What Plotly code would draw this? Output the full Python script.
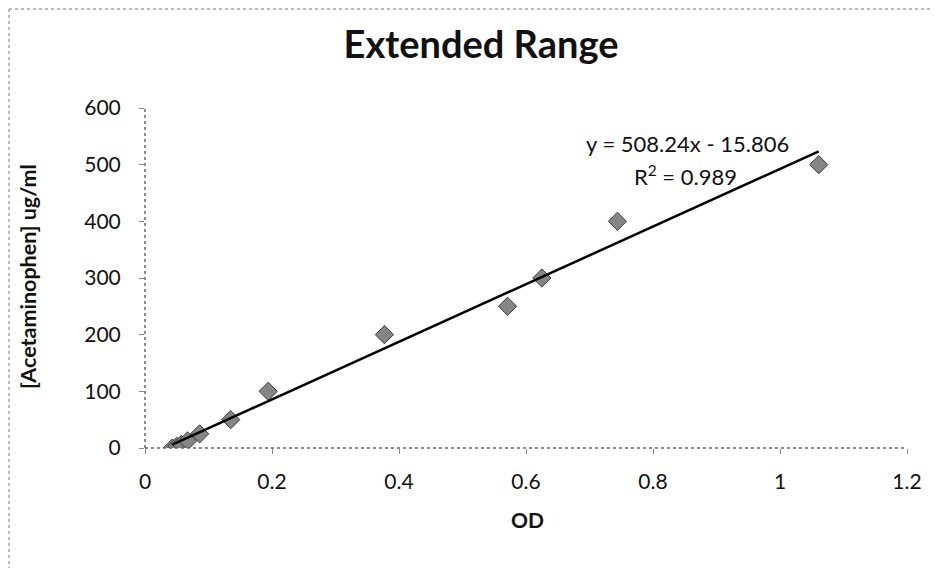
import plotly.graph_objects as go

od = [0.043, 0.050, 0.057, 0.067, 0.086, 0.135, 0.194, 0.377, 0.571, 0.625, 0.744, 1.061]
conc = [0, 3.125, 6.25, 12.5, 25, 50, 100, 200, 250, 300, 400, 500]
slope = 508.24
intercept = -15.806
x_ticks = [0, 0.2, 0.4, 0.6, 0.8, 1, 1.2]
y_ticks = [0, 100, 200, 300, 400, 500, 600]

fit_x = [min(od), max(od)]
fit_y = [slope * v + intercept for v in fit_x]

OFF = 8  # page body margin
W, H = 939, 568
L, R, T, B = 145 - OFF, 907 - OFF, 108 - OFF, 448 - OFF
PW, PH = R - L, B - T


def px(p):  # screen x -> paper
    return (p - OFF - L) / PW


def py(p):  # screen y -> paper
    return (B - (p - OFF)) / PH


FONT = "Lato"
fig = go.Figure()
fig.add_trace(go.Scatter(
    x=od, y=conc, mode="markers",
    marker=dict(symbol="diamond", size=14, color="#858585",
                line=dict(color="#3a3a3a", width=1)),
    showlegend=False))
fig.add_trace(go.Scatter(
    x=fit_x, y=fit_y, mode="lines",
    line=dict(color="black", width=2.5), showlegend=False))

fig.update_layout(
    width=W, height=H,
    margin=dict(l=L, r=W - R, t=T, b=H - B, autoexpand=False),
    paper_bgcolor="white", plot_bgcolor="white",
    font=dict(family=FONT, color="#111", size=21),
    title=dict(text="<b>Extended Range</b>", x=px(481), xref="paper", xanchor="center",
               y=1 - (45 - OFF) / H, yanchor="middle",
               font=dict(family=FONT, size=38, color="#111")),
    xaxis=dict(range=[0, 1.2], tickvals=x_ticks, showgrid=False, zeroline=False,
               showline=False, ticks="outside", ticklen=5, tickcolor="#888",
               tickfont=dict(size=21), automargin=False, ticklabelstandoff=10),
    yaxis=dict(range=[0, 600], tickvals=y_ticks, showgrid=False, zeroline=False,
               showline=False, ticks="outside", ticklen=5, tickcolor="#888",
               tickfont=dict(size=21), automargin=False, ticklabelstandoff=14),
    annotations=[
        dict(text="y = 508.24x - 15.806", x=px(687), y=py(143),
             xref="paper", yref="paper", showarrow=False, font=dict(size=22),
             xanchor="center", yanchor="middle"),
        dict(text="R<sup>2</sup> = 0.989", x=px(685), y=py(175),
             xref="paper", yref="paper", showarrow=False, font=dict(size=22),
             xanchor="center", yanchor="middle"),
        dict(text="<b>OD</b>", x=px(527), y=py(520), xref="paper", yref="paper",
             showarrow=False, font=dict(size=21), xanchor="center", yanchor="middle"),
        dict(text="<b>[Acetaminophen] ug/ml</b>", x=px(28), y=py(277),
             xref="paper", yref="paper", textangle=-90,
             showarrow=False, font=dict(size=21.5), xanchor="center", yanchor="middle"),
    ],
)

# dotted axis lines
fig.add_shape(type="line", xref="paper", yref="paper", x0=0, x1=1, y0=0, y1=0,
              line=dict(color="#666", width=1.5, dash="dot"))
fig.add_shape(type="line", xref="paper", yref="paper", x0=0, x1=0, y0=0, y1=1,
              line=dict(color="#666", width=1.5, dash="dot"))
# chart border (top and left), just inside the figure edge
bx, by = OFF + 1, OFF + 1
fig.add_shape(type="line", xref="paper", yref="paper",
              x0=px(bx), x1=px(W + OFF), y0=py(by), y1=py(by),
              line=dict(color="#777", width=1, dash="dot"))
fig.add_shape(type="line", xref="paper", yref="paper",
              x0=px(bx), x1=px(bx), y0=py(by), y1=py(H + OFF),
              line=dict(color="#777", width=1, dash="dot"))

fig.write_html("out.html")
